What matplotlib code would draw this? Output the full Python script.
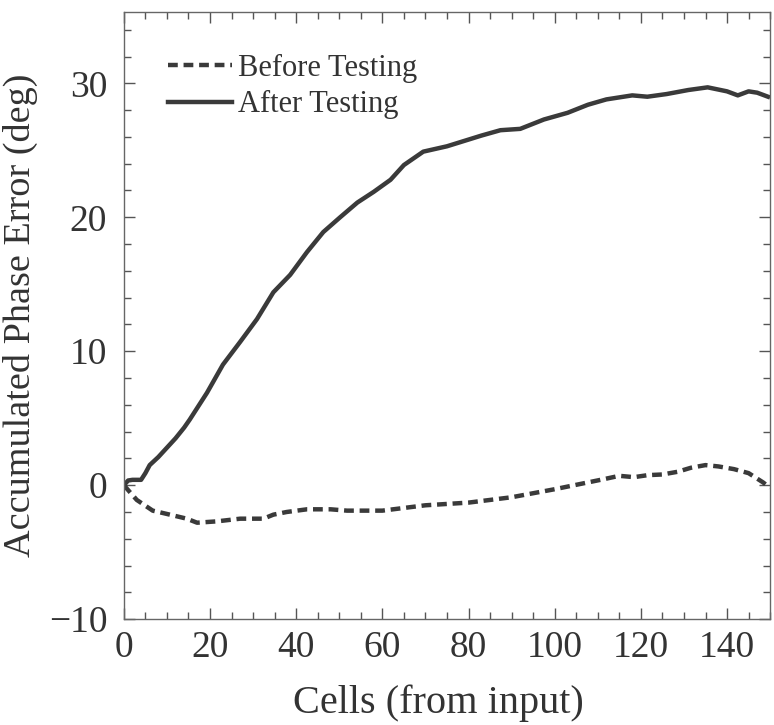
import matplotlib.pyplot as plt
from matplotlib.ticker import MultipleLocator

plt.rcParams['font.family'] = ['Liberation Serif', 'DejaVu Serif']

# After Testing (solid line)
after_x = [0, 1, 2, 4, 5, 6, 8, 10, 12, 14, 15.3, 19.3, 23, 27, 30.9, 34.7, 38.6,
           42.5, 46.3, 50.2, 54.2, 58, 61.9, 65, 69.5, 75, 80, 83, 87.4, 92, 97.5,
           103, 107.7, 112, 118, 121.5, 126, 131, 135.5, 140, 142.5, 145, 147, 149.5]
after_y = [0, 0.35, 0.4, 0.4, 0.9, 1.5, 2.1, 2.8, 3.5, 4.3, 4.9, 6.9, 9.0, 10.7, 12.4,
           14.4, 15.7, 17.4, 18.9, 20.0, 21.1, 21.9, 22.8, 23.9, 24.9, 25.3, 25.8, 26.1,
           26.5, 26.6, 27.3, 27.8, 28.4, 28.8, 29.1, 29.0, 29.2, 29.5, 29.7, 29.4, 29.1,
           29.4, 29.3, 29.0]

# Before Testing (dashed line)
before_x = [0, 3, 6.7, 10.7, 14.6, 17, 21.6, 27, 32.4, 34.7, 37.8, 42.5, 48, 51.8, 60,
            70, 80, 90, 100, 111.4, 115, 118.4, 121.6, 125, 128.5, 131.6, 135, 138,
            141.6, 145, 148.4, 150]
before_y = [0, -1.1, -1.9, -2.2, -2.5, -2.8, -2.7, -2.5, -2.5, -2.2, -2.0, -1.8, -1.8,
            -1.9, -1.9, -1.5, -1.3, -0.9, -0.3, 0.45, 0.7, 0.6, 0.75, 0.8, 1.0, 1.3, 1.5,
            1.4, 1.2, 0.9, 0.2, -0.2]

fig = plt.figure(figsize=(7.74, 7.25), dpi=100)
ax = fig.add_axes([0.160, 0.146, 0.835, 0.837])

c = '#3a3a3a'
ax.plot(before_x, before_y, color=c, lw=3.2, dashes=(2.2, 1.3), label='Before Testing')
ax.plot(after_x, after_y, color=c, lw=3.2, label='After Testing')

ax.set_xlim(0, 150)
ax.set_ylim(-10, 35.3)
ax.xaxis.set_major_locator(MultipleLocator(20))
ax.xaxis.set_minor_locator(MultipleLocator(5))
ax.yaxis.set_major_locator(MultipleLocator(10))
ax.yaxis.set_minor_locator(MultipleLocator(2))
ax.tick_params(which='both', direction='in', top=True, right=True, color='#555555',
               labelsize=27, labelcolor='#333333')
ax.tick_params(which='major', length=8, width=1)
ax.tick_params(which='minor', length=5, width=1)
ax.tick_params(axis='x', pad=8)
ax.tick_params(axis='y', pad=12)
for s in ax.spines.values():
    s.set_color('#666666')
    s.set_linewidth(1)

ax.set_xlabel('Cells (from input)', fontsize=29, color='#333333', labelpad=14)
ax.xaxis.label.set_x(0.486)
ax.set_ylabel('Accumulated Phase Error (deg)', fontsize=27.5, color='#333333', labelpad=8)

ax.legend(loc='upper left', bbox_to_anchor=(0.026, 0.977), frameon=False, fontsize=22,
          handlelength=2.1, handletextpad=0.17, labelspacing=0.25, labelcolor='#333333')

fig.savefig('out.png', dpi=100)
